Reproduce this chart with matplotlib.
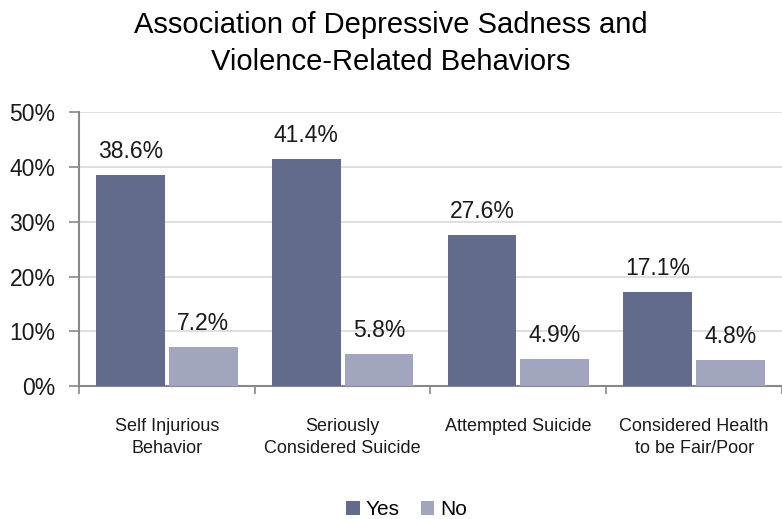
import matplotlib
matplotlib.use("Agg")
import matplotlib.pyplot as plt
import numpy as np
from matplotlib.ticker import FuncFormatter

categories = ["Self Injurious\nBehavior", "Seriously\nConsidered Suicide",
              "Attempted Suicide", "Considered Health\nto be Fair/Poor"]
yes_vals = [38.6, 41.4, 27.6, 17.1]
no_vals = [7.2, 5.8, 4.9, 4.8]
series_names = ["Yes", "No"]
title = "Association of Depressive Sadness and\nViolence-Related Behaviors"

yes_color = "#636B8D"
no_color = "#A1A6BE"
fam = ["Liberation Sans", "DejaVu Sans"]

fig = plt.figure(figsize=(7.82, 5.19), dpi=100)
ax = fig.add_axes([0.101, 0.256, 0.899, 0.528])

x = np.arange(len(categories))
w = 0.39
off = 0.207
b1 = ax.bar(x - off, yes_vals, w, color=yes_color, label=series_names[0], zorder=3)
b2 = ax.bar(x + off, no_vals, w, color=no_color, label=series_names[1], zorder=3)

for bars, vals in ((b1, yes_vals), (b2, no_vals)):
    for rect, v in zip(bars, vals):
        ax.text(rect.get_x() + rect.get_width() / 2, v + 2.2, f"{v:.1f}%",
                ha="center", va="bottom", family=fam, fontsize=16.5, color="#1a1a1a")

ax.set_xlim(-0.5, len(categories) - 0.5)
ax.set_ylim(0, 50)
ax.set_yticks(np.arange(0, 51, 10))
ax.yaxis.set_major_formatter(FuncFormatter(lambda v, p: f"{v:.0f}%"))
for t in ax.get_yticklabels():
    t.set_fontfamily(fam)
    t.set_fontsize(16.5)
    t.set_color("#1a1a1a")
ax.tick_params(axis="y", length=7, color="#888888", width=1.2, pad=10)
ax.grid(axis="y", color="#D9D9D9", linewidth=1.2, zorder=0)

ax.set_xticks(np.arange(-0.5, len(categories), 1.0))
ax.set_xticklabels([])
ax.set_xticks(x, minor=True)
ax.set_xticklabels(categories, minor=True, fontsize=13, family=fam,
                   color="#1a1a1a", linespacing=1.35)
ax.tick_params(axis="x", which="major", length=6, color="#888888", width=1.2)
ax.tick_params(axis="x", which="minor", length=0, pad=23)

for s in ("top", "right"):
    ax.spines[s].set_visible(False)
for s in ("left", "bottom"):
    ax.spines[s].set_color("#888888")
    ax.spines[s].set_linewidth(1.5)

fig.text(0.5, 0.978, title, ha="center", va="top", fontsize=21,
         family=fam, color="black", linespacing=1.4)

leg = fig.legend(handles=[b1, b2], labels=series_names, loc="lower center",
                 bbox_to_anchor=(0.52, -0.037), ncol=2, frameon=False,
                 prop={"family": fam, "size": 15},
                 handlelength=0.65, handleheight=0.65, handletextpad=0.3, columnspacing=1.0)

fig.savefig("out.png", dpi=100)
